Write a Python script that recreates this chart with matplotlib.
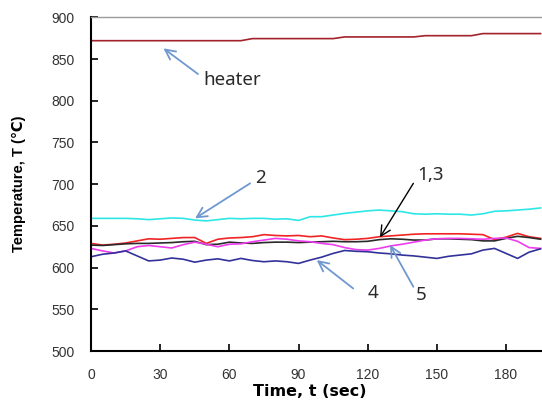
import matplotlib
matplotlib.use("Agg")
import matplotlib.pyplot as plt

# time axis, sec
time = list(range(0, 200, 5))

# thermocouple readings, deg C
heater = [872, 872, 872, 872, 872, 872, 872, 872, 872, 872,
          872, 872, 872, 872, 874.5, 874.5, 874.5, 874.5, 874.5, 874.5,
          874.5, 874.5, 876.5, 876.5, 876.5, 876.5, 876.5, 876.5, 876.5, 878,
          878, 878, 878, 878, 880.5, 880.5, 880.5, 880.5, 880.5, 880.5]
tc1 = [629, 627, 628, 629.5, 632, 634.5, 634, 635, 636, 636,
       629, 634, 635.5, 636, 637, 639.5, 638.5, 638, 638.5, 637,
       638, 635.5, 633.5, 634, 635, 637, 638, 639, 640, 640.5,
       640.5, 640.5, 640.5, 640, 639.5, 633.5, 636.5, 641, 637, 635]
tc2 = [659, 659, 659, 659, 658.5, 657.5, 658.5, 659.5, 659, 657,
       656, 657.5, 659, 658.5, 659, 659, 658, 658.5, 656.5, 661,
       661, 663, 665, 666.5, 668, 669, 668, 667, 664.5, 664,
       664.5, 664, 664, 663, 664.5, 667.5, 668, 669, 670, 671.5]
tc3 = [627, 626.5, 627.5, 628.5, 629, 629, 629.5, 630, 631, 631.5,
       627.5, 628, 630.5, 629.5, 629, 630, 630.5, 630.5, 630, 630.5,
       631, 631.5, 631, 631, 631.5, 633.5, 634.5, 634, 633, 633,
       634.5, 634.5, 634, 633.5, 632, 632, 635, 637.5, 636, 634]
tc4 = [613, 616, 617.5, 620, 614, 608, 609, 611.5, 610, 606.5,
       609, 610.5, 608, 611, 608.5, 607, 608, 607, 605, 609,
       612.5, 617, 620.5, 619.5, 619, 617.5, 616.5, 615, 614, 612.5,
       611, 613.5, 615, 616.5, 621, 623, 617, 611, 618.5, 622.5]
tc5 = [623, 620, 617.5, 620, 625, 626.5, 625, 623.5, 627.5, 630.5,
       628, 625, 628, 628.5, 631, 633, 635, 634, 632, 631,
       629, 627.5, 624, 621.5, 621, 623, 626, 628, 630.5, 633,
       634.5, 635, 635, 634.5, 634, 635, 635.5, 631.5, 624, 623]

x_ticks = [0, 30, 60, 90, 120, 150, 180]
y_ticks = [500, 550, 600, 650, 700, 750, 800, 850, 900]

plt.rcParams["font.family"] = ["Liberation Sans", "DejaVu Sans"]

fig = plt.figure(figsize=(5.42, 4.03), dpi=100)
ax = fig.add_axes([0.168, 0.129, 0.832, 0.828])

ax.plot(time, heater, color="#a3222b", lw=1.2)
ax.plot(time, tc2, color="#2ee6e6", lw=1.2)
ax.plot(time, tc1, color="#f02424", lw=1.2)
ax.plot(time, tc3, color="#2a2a2a", lw=1.2)
ax.plot(time, tc5, color="#ee3cee", lw=1.2)
ax.plot(time, tc4, color="#32329a", lw=1.2)

ax.set_xlim(0, 195.6)
ax.set_ylim(500, 900)
ax.set_xticks(x_ticks)
ax.set_yticks(y_ticks)
ax.tick_params(direction="in", length=5, width=1.2, pad=12,
               labelsize=10, labelcolor="#333333")

ax.spines["right"].set_visible(False)
ax.spines["top"].set_color("#9a9a9a")
ax.spines["top"].set_linewidth(1.0)
ax.spines["left"].set_linewidth(1.5)
ax.spines["bottom"].set_linewidth(1.5)

ax.set_xlabel("Time, t (sec)", fontsize=11.5, fontweight="bold",
              family=["DejaVu Sans"])
ax.xaxis.set_label_coords(0.486, -0.1)
ax.set_ylabel("Temperature, T (\u2103)", fontsize=10.5, fontweight="bold")
ax.yaxis.set_label_coords(-0.145, 0.5)

blue = "#6f98cf"
tfont = dict(fontsize=13.5, color="#2a2a2a", family=["Noto Sans", "DejaVu Sans"],
             va="center")


def arrow(tail, tip, color=blue, lw=1.3):
    ax.annotate("", xy=tip, xytext=tail,
                arrowprops=dict(arrowstyle="->", color=color, lw=lw,
                                mutation_scale=18, shrinkA=0, shrinkB=0))


arrow((46.4, 832), (31.4, 862.8))
ax.text(48.7, 825, "heater", ha="left", **tfont)
arrow((69, 701), (45.1, 659))
ax.text(73.3, 707, "2", ha="center", **tfont)
arrow((139.8, 701), (125.3, 636.2), color="black", lw=1.0)
ax.text(147.4, 711, "1,3", ha="center", **tfont)
arrow((113.7, 575), (97.9, 609))
ax.text(122.4, 569, "4", ha="center", **tfont)
arrow((139.8, 577), (129.7, 627))
ax.text(143.4, 567, "5", ha="center", **tfont)

fig.savefig("out.png", dpi=100)
